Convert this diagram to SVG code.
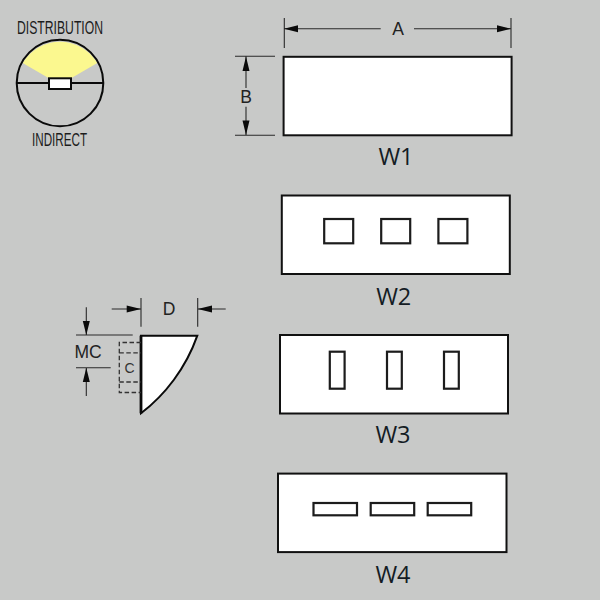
<svg xmlns="http://www.w3.org/2000/svg" width="600" height="600" viewBox="0 0 600 600">
<style>
.panel{fill:#fff;stroke:#111;stroke-width:2}
.hole{fill:#fff;stroke:#1c1c1c;stroke-width:2.200}
.dim{fill:none;stroke:#2a2a2a;stroke-width:1.100}
.ah{fill:#0a0a0a;stroke:none}
.dl{font-family:"Liberation Sans",Arial,sans-serif;font-size:17.500px;fill:#222;text-anchor:middle}
.wl{font-family:"Open Sans","Noto Sans",sans-serif;font-size:23.500px;fill:#141c24;text-anchor:middle}
.cl{font-family:"Liberation Sans",Arial,sans-serif;font-size:18px;fill:#1c1c1c}
.dash{fill:none;stroke:#333;stroke-width:1.300;stroke-dasharray:4.500 2.500}
</style>
<rect width="600" height="600" fill="#c8c9c8"/>
<g id="distribution">
<circle cx="60" cy="83" r="43.300" fill="#c8c9c8"/>
<path d="M22.700 63A43.300 43.300 0 0 1 97.300 63L71.500 78H48.500Z" fill="#fbf88f"/>
<circle cx="60" cy="83" r="43.300" fill="none" stroke="#0a0a0a" stroke-width="2"/>
<line x1="16.700" y1="83" x2="103.300" y2="83" stroke="#0a0a0a" stroke-width="1.800"/>
<rect x="49" y="78.300" width="22" height="10.700" fill="#fff" stroke="#0a0a0a" stroke-width="2"/>
<text class="cl" x="17" y="33.500" textLength="86" lengthAdjust="spacingAndGlyphs">DISTRIBUTION</text>
<text class="cl" x="32" y="145.500" textLength="55" lengthAdjust="spacingAndGlyphs">INDIRECT</text>
</g>
<g id="W1"><rect class="panel" x="283.600" y="56.800" width="228" height="78.500"/><text class="wl" x="396" y="165">W1</text></g>
<g id="W2"><rect class="panel" x="281.800" y="195.500" width="228" height="78.500"/>
<rect class="hole" x="324.200" y="219" width="29" height="24.300"/><rect class="hole" x="381.200" y="219" width="29" height="24.300"/><rect class="hole" x="438.400" y="219" width="29" height="24.300"/>
<text class="wl" x="393.700" y="305">W2</text></g>
<g id="W3"><rect class="panel" x="280" y="335" width="228" height="78.500"/>
<rect class="hole" x="329.800" y="351.700" width="14.800" height="37"/><rect class="hole" x="387" y="351.700" width="14.800" height="37"/><rect class="hole" x="444" y="351.700" width="14.800" height="37"/>
<text class="wl" x="393" y="442.700">W3</text></g>
<g id="W4"><rect class="panel" x="278" y="473.600" width="228.500" height="78.500"/>
<rect class="hole" x="313.500" y="503" width="43.500" height="12.300"/><rect class="hole" x="370.700" y="503" width="43.500" height="12.300"/><rect class="hole" x="427.700" y="503" width="43.500" height="12.300"/>
<text class="wl" x="393" y="582.700">W4</text></g>
<g id="profile">
<path d="M141 335.700H197.300C186 368 165 395 141 413.300Z" fill="#fff" stroke="#0a0a0a" stroke-width="2"/>
<line x1="141" y1="335.700" x2="141" y2="413.300" stroke="#0a0a0a" stroke-width="2.800"/>
<path class="dash" d="M141 342.500H119.300V392.500H141"/>
<path class="dash" d="M119.300 352.800H141M119.300 382H141"/>
<text x="129.500" y="373" font-family="Liberation Sans,sans-serif" font-size="14" fill="#333" text-anchor="middle">C</text>
</g>
<g id="connectors">
<path class="dim" d="M284.300 18V48M511 18V48M284 28.700H380.700M414 28.700H511M235 56.300H275M235 135.300H275M246 56V88M246 106.700V135M141 298V326.700M197.700 298V326.700M111.700 309H141M197.700 309H225.700M76 335H132.700M76 367.700H110.700M86.300 307.300V335M86.300 396V367.700"/>
<path class="ah" d="M284 28.700L298 25.200V32.200ZM511 28.700L497 25.200V32.200ZM246 56.500L242.500 71H249.500ZM246 135L242.500 120.500H249.500ZM141 309L126.700 305.500V312.500ZM197.700 309L212 305.500V312.500ZM86.300 335L82.800 321H89.800ZM86.300 367.700L82.800 382H89.800Z"/>
<text class="dl" x="398" y="34.500">A</text>
<text class="dl" x="246" y="102.500">B</text>
<text class="dl" x="169" y="315">D</text>
<text class="dl" x="88" y="357.700">MC</text>
</g>
</svg>
